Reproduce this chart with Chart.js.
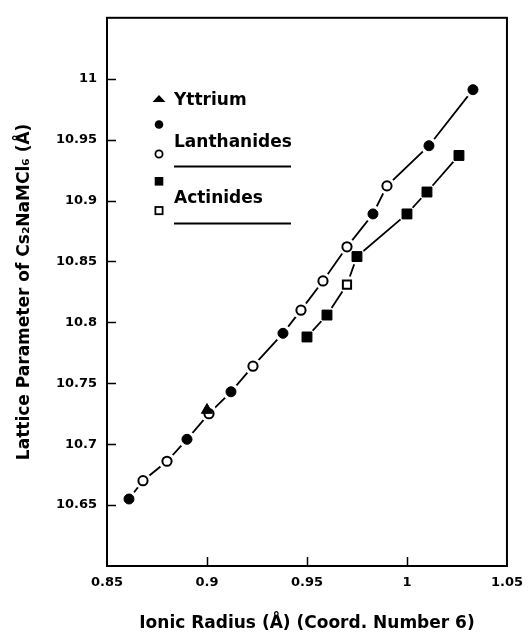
<!DOCTYPE html>
<html>
<head>
<meta charset="utf-8">
<script src="https://cdn.jsdelivr.net/npm/chart.js@4.4.1/dist/chart.umd.min.js"></script>
<style>
  html, body { margin: 0; padding: 0; background: #fff; }
  #wrap { width: 532px; height: 635px; position: relative; }
</style>
</head>
<body>
<div id="wrap"><canvas id="chart"></canvas></div>
<script>
/* Lattice parameter of Cs2NaMCl6 vs ionic radius (CN 6) — scatter + connecting lines */

// ionic radius (Å) / lattice parameter (Å)
const lanFilledX = [0.861, 0.890, 0.912, 0.938, 0.983, 1.011, 1.033];
const lanFilledY = [10.655, 10.704, 10.743, 10.791, 10.889, 10.945, 10.991];
const lanOpenX = [0.868, 0.880, 0.901, 0.923, 0.947, 0.958, 0.970, 0.990];
const lanOpenY = [10.670, 10.686, 10.725, 10.764, 10.810, 10.834, 10.862, 10.912];
const actFilledX = [0.950, 0.960, 0.975, 1.000, 1.010, 1.026];
const actFilledY = [10.788, 10.806, 10.854, 10.889, 10.907, 10.937];
const actOpenX = [0.970];
const actOpenY = [10.831];
const yttriumX = [0.900];
const yttriumY = [10.728];

const xTicks = [0.85, 0.9, 0.95, 1, 1.05];
const yTicks = [10.65, 10.7, 10.75, 10.8, 10.85, 10.9, 10.95, 11];

const FONT = 'DejaVu Sans';
const INK = '#000';

const pts = (xs, ys) => xs.map((x, i) => ({ x, y: ys[i] }));
const byX = (a, b) => a.x - b.x;
const fmt = (v) => String(parseFloat(Number(v).toFixed(2)));

const lanLine = pts(lanFilledX, lanFilledY).concat(pts(lanOpenX, lanOpenY)).sort(byX);
const actLine = pts(actFilledX, actFilledY).concat(pts(actOpenX, actOpenY)).sort(byX);
const allPts = lanLine.concat(actLine, pts(yttriumX, yttriumY));

// white page, inward ticks, full frame, hand-placed key
const framePlugin = {
  id: 'frame',
  beforeDraw(chart) {
    const c = chart.ctx;
    c.save();
    c.fillStyle = '#fff';
    c.fillRect(0, 0, chart.width, chart.height);
    c.restore();
  },
  afterDraw(chart) {
    const c = chart.ctx;
    const a = chart.chartArea;
    const xs = chart.scales.x;
    const ys = chart.scales.y;
    c.save();
    c.strokeStyle = INK;
    c.lineWidth = 2;
    c.strokeRect(a.left, a.top, a.right - a.left, a.bottom - a.top);
    c.lineWidth = 1.5;
    c.beginPath();
    yTicks.forEach((v) => {
      const py = Math.round(ys.getPixelForValue(v)) + 0.5;
      c.moveTo(a.left, py);
      c.lineTo(a.left + 9, py);
    });
    xTicks.slice(1, -1).forEach((v) => {
      const px = Math.round(xs.getPixelForValue(v)) + 0.5;
      c.moveTo(px, a.bottom);
      c.lineTo(px, a.bottom - 9);
    });
    c.stroke();

    // key
    const mx = 159;
    c.fillStyle = INK;
    c.beginPath();
    c.moveTo(mx - 6.5, 102); c.lineTo(mx + 6.5, 102); c.lineTo(mx, 95); c.closePath();
    c.fill();
    c.beginPath(); c.arc(mx, 124.5, 4.3, 0, Math.PI * 2); c.fill();
    c.fillRect(mx - 4.3, 177, 8.6, 8.6);
    c.lineWidth = 1.8;
    c.fillStyle = '#fff';
    c.beginPath(); c.arc(mx, 154, 3.6, 0, Math.PI * 2); c.fill(); c.stroke();
    c.fillRect(mx - 3.6, 207, 7.2, 7.2);
    c.strokeRect(mx - 3.6, 207, 7.2, 7.2);

    c.fillStyle = INK;
    c.font = 'bold 17px "' + FONT + '"';
    c.textBaseline = 'alphabetic';
    c.textAlign = 'left';
    c.fillText('Yttrium', 174, 105);
    c.fillText('Lanthanides', 174, 147);
    c.fillText('Actinides', 174, 203);
    c.lineWidth = 2;
    c.beginPath();
    c.moveTo(174, 166.5); c.lineTo(291, 166.5);
    c.moveTo(174, 223.5); c.lineTo(291, 223.5);
    c.stroke();
    c.restore();
  },
};

const ctx = document.getElementById('chart');
new Chart(ctx, {
  type: 'scatter',
  data: {
    datasets: [
      // markers (drawn last)
      { label: 'Yttrium', data: pts(yttriumX, yttriumY), order: 0, pointStyle: 'triangle',
        pointRadius: 6.5, backgroundColor: INK, borderColor: INK, borderWidth: 1 },
      { label: 'Lanthanides (open)', data: pts(lanOpenX, lanOpenY), order: 0, pointStyle: 'circle',
        pointRadius: 4.6, backgroundColor: '#fff', borderColor: INK, borderWidth: 2 },
      { label: 'Lanthanides', data: pts(lanFilledX, lanFilledY), order: 0, pointStyle: 'circle',
        pointRadius: 5, backgroundColor: INK, borderColor: INK, borderWidth: 1 },
      { label: 'Actinides (open)', data: pts(actOpenX, actOpenY), order: 0, pointStyle: 'rect',
        pointRadius: 5.8, backgroundColor: '#fff', borderColor: INK, borderWidth: 2 },
      { label: 'Actinides', data: pts(actFilledX, actFilledY), order: 0, pointStyle: 'rect',
        pointRadius: 7, backgroundColor: INK, borderColor: INK, borderWidth: 1 },
      // white halos break the lines around each marker
      { label: 'halo', data: allPts, order: 1, pointStyle: 'circle',
        pointRadius: 8.5, backgroundColor: '#fff', borderWidth: 0 },
      // connecting lines
      { label: 'Ln line', data: lanLine, order: 2, showLine: true, pointRadius: 0,
        borderColor: INK, borderWidth: 1.8 },
      { label: 'An line', data: actLine, order: 2, showLine: true, pointRadius: 0,
        borderColor: INK, borderWidth: 1.8 },
    ],
  },
  options: {
    responsive: true,
    maintainAspectRatio: false,
    animation: false,
    events: [],
    layout: { padding: { left: 0, top: 13, right: 25, bottom: 0 } },
    plugins: {
      legend: { display: false },
      tooltip: { enabled: false },
    },
    scales: {
      x: {
        type: 'linear',
        min: 0.85,
        max: 1.05,
        afterBuildTicks: (s) => { s.ticks = xTicks.map((value) => ({ value })); },
        afterFit: (s) => { s.height = 69; },
        grid: { display: false, drawTicks: false },
        border: { display: false },
        ticks: { color: INK, padding: 9, maxRotation: 0, autoSkip: false,
          font: { family: FONT, size: 13, weight: 'bold' }, callback: fmt },
        title: { display: true, text: 'Ionic Radius (Å) (Coord. Number 6)', color: INK,
          font: { family: FONT, size: 17, weight: 'bold' }, padding: { top: 0, bottom: 1 } },
      },
      y: {
        type: 'linear',
        min: 10.6,
        max: 11.05,
        afterBuildTicks: (s) => { s.ticks = yTicks.map((value) => ({ value })); },
        afterFit: (s) => { s.width = 107; },
        grid: { display: false, drawTicks: false },
        border: { display: false },
        ticks: { color: INK, padding: 10, autoSkip: false,
          font: { family: FONT, size: 13, weight: 'bold' }, callback: fmt },
        title: { display: true, text: 'Lattice Parameter of Cs₂NaMCl₆ (Å)', color: INK,
          font: { family: FONT, size: 17, weight: 'bold' }, padding: { top: 14, bottom: 0 } },
      },
    },
  },
  plugins: [framePlugin],
});
</script>
</body>
</html>
